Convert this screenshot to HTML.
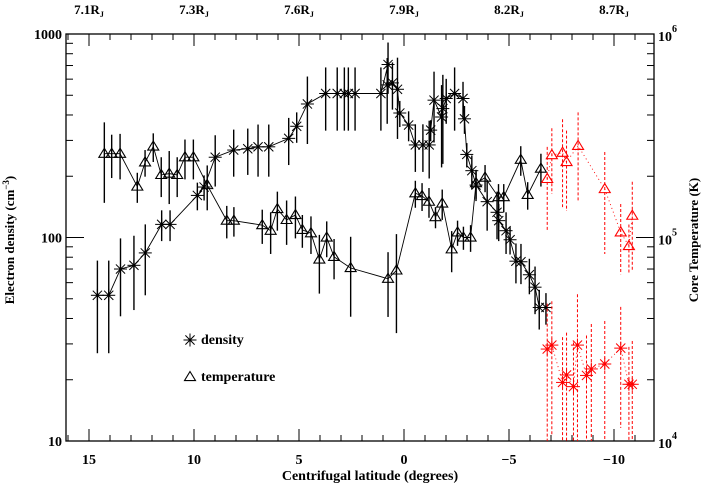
<!DOCTYPE html>
<html><head><meta charset="utf-8"><style>
body{margin:0;background:#fff}
svg{display:block;font-family:"Liberation Serif",serif}
</style></head><body>
<svg id="c" width="703" height="486" viewBox="0 0 703 486"></svg>
<script>
// ---- data ----
const densLat=[14.6,14.06,13.5,12.86,12.32,11.54,11.14,9.84,9.52,8.99,8.11,7.44,6.95,6.44,5.49,5.11,4.6,3.73,3.18,2.84,2.65,2.33,1.1,0.76,0.8,0.55,0.31,0.2,-0.22,-0.54,-0.9,-1.2,-1.27,-1.43,-1.79,-1.85,-2.01,-2.41,-2.81,-2.88,-2.99,-3.23,-3.43,-3.96,-4.43,-4.51,-4.86,-5.05,-5.33,-5.57,-5.97,-6.24,-6.44,-6.76];
const densVal=[52,52,70,73,84,116,116,161,177,248,269,273,279,279,307,352,453,510,510,510,510,510,510,708,562,575,535,409,357,285,285,285,337,473,391,430,482,510,482,383,256,213,181,150,133,121,108,97.5,76.5,76,65.6,57,45.3,45.3];
const densErr=[25,25,29,29,32,20,20,25,25,70,70,70,80,80,80,60,165,175,175,175,175,175,175,200,200,150,230,60,60,75,75,90,40,180,170,200,120,175,100,60,35,40,30,42,35,25,25,15,17,17,13,15,10,8];
const tempLat=[14.27,13.92,13.52,12.7,12.33,11.94,11.56,11.18,10.8,10.43,10.03,9.37,8.44,8.1,6.75,6.35,6.03,5.59,5.17,4.84,4.43,4.03,3.68,3.33,2.54,0.76,0.36,-0.54,-0.86,-1.19,-1.5,-1.82,-2.27,-2.55,-2.83,-3.17,-3.43,-3.86,-4.5,-4.75,-5.56,-5.89,-6.52];
const tempVal=[258000,258000,258000,178000,234000,280000,203000,206000,203000,248000,248000,181000,121000,121000,115000,108000,138000,122000,129000,109000,105000,78000,100000,80300,70800,62700,68900,165000,160000,150000,126000,147000,87500,106000,100000,100000,185000,197000,158000,158000,241000,162000,218000];
const tempErr=[110000,62000,65000,30000,35000,45000,45000,60000,45000,55000,55000,45000,22000,20000,22000,25000,30000,30000,30000,20000,22000,25000,20000,18000,30000,22000,35000,25000,25000,25000,15000,25000,20000,15000,13000,15000,30000,30000,25000,25000,40000,25000,40000];
const rDensLat=[-6.82,-7.04,-7.55,-7.74,-8.07,-8.26,-8.69,-8.92,-9.56,-10.32,-10.71,-10.87];
const rDensVal=[28.3,29.6,19.4,21.1,18.5,29.6,21,22.6,23.9,28.6,19,19];
const rDensErr=[19,19,13,13,12,23,12,15,15,17,10,12];
const rTempLat=[-6.82,-7.04,-7.55,-7.74,-8.29,-9.56,-10.32,-10.71,-10.87];
const rTempVal=[194000,254000,261000,235000,282000,173000,106000,90800,128000];
const rTempErr=[85000,90000,120000,100000,130000,90000,40000,25000,60000];
const xTicks=[15,10,5,0,-5,-10];
const xTickLabels=["15","10","5","0","\u22125","\u221210"];
const topLabels=["7.1","7.3","7.6","7.9","8.2","8.7"];

// ---- axes ----
const L=66,R=654,T=34,B=441,DEC=203.5;
const X=lat=>404-21*lat;
const YD=v=>B-(Math.log10(v)-1)*DEC;
const YT=v=>B-(Math.log10(v)-4)*DEC;
const NS="http://www.w3.org/2000/svg";
const svg=document.getElementById('c');
function mk(tag,at,parent){const e=document.createElementNS(NS,tag);for(const k in at)e.setAttribute(k,at[k]);(parent||svg).appendChild(e);return e;}
const clampY=y=>Math.max(T,Math.min(B,y));

const axes=mk('g',{});


mk('rect',{x:L,y:T,width:R-L,height:B-T,fill:'none',stroke:'#000','stroke-width':1.3},axes);
for(let d=16;d>=-11;d--){const x=X(d);const maj=d%5===0;const len=maj?12:6;
 mk('line',{x1:x,y1:B,x2:x,y2:B-len,stroke:'#000'},axes);
 mk('line',{x1:x,y1:T,x2:x,y2:T+len,stroke:'#000'},axes);}
xTicks.forEach((d,i)=>{const t=mk('text',{x:X(d),y:464,'text-anchor':'middle','font-size':14,'font-weight':'bold'},axes);t.textContent=xTickLabels[i];
 
 const u=mk('text',{x:X(d),y:14,'text-anchor':'middle','font-size':13,'font-weight':'bold'},axes);u.innerHTML=topLabels[i]+'R<tspan font-size="8" dy="3">J</tspan>';
 });
for(let dec=1;dec<3;dec++)for(let m=1;m<10;m++){const v=m*Math.pow(10,dec);const y=YD(v);const len=m===1?18:7;
 mk('line',{x1:L,y1:y,x2:L+len,y2:y,stroke:'#000'},axes);
 mk('line',{x1:R,y1:y,x2:R-len,y2:y,stroke:'#000'},axes);}
[[10,'10'],[100,'100'],[1000,'1000']].forEach(([v,s])=>{const t=mk('text',{x:62,y:YD(v)+5,'text-anchor':'end','font-size':14,'font-weight':'bold'},axes);t.textContent=s;
 });
[[1e4,'4'],[1e5,'5'],[1e6,'6']].forEach(([v,s])=>{const t=mk('text',{x:658,y:YT(v)+7,'font-size':14,'font-weight':'bold'},axes);t.innerHTML='10<tspan font-size="10" dy="-9">'+s+'</tspan>';
 });
let t=mk('text',{x:370,y:480,'text-anchor':'middle','font-size':14,'font-weight':'bold'});t.textContent='Centrifugal latitude (degrees)';

t=mk('text',{x:0,y:0,'text-anchor':'middle','font-size':13,'font-weight':'bold',transform:'translate(14,240) rotate(-90)'});t.innerHTML='Electron density (cm<tspan font-size="9" dy="-5">\u22123</tspan><tspan dy="5">)</tspan>';

t=mk('text',{x:0,y:0,'text-anchor':'middle','font-size':13,'font-weight':'bold',transform:'translate(698,240) rotate(-90)'});t.textContent='Core Temperature (K)';


function star(g,x,y,col){const r=6.5;for(let k=0;k<4;k++){const a=k*Math.PI/4;mk('line',{x1:x-r*Math.cos(a),y1:y-r*Math.sin(a),x2:x+r*Math.cos(a),y2:y+r*Math.sin(a),stroke:col,'stroke-width':1},g);}
 mk('circle',{cx:x,cy:y,r:1.5,fill:col},g);}
function tri(g,x,y,col){const r=5.5;mk('polygon',{points:`${x},${y-r} ${x-r},${y+r*0.65} ${x+r},${y+r*0.65}`,fill:'none',stroke:col,'stroke-width':1.1},g);}

function series(name,lat,val,err,Y,col,dash,sym){
 const g=mk('g',{});
 
 
 lat.forEach((d,i)=>{const lo=Math.max(val[i]-err[i],val[i]*0.05);
  const e=mk('line',{x1:X(d),x2:X(d),y1:clampY(Y(val[i]+err[i])),y2:clampY(Y(lo)),stroke:col,'stroke-width':dash?1:1.4,'stroke-dasharray':dash?'3,2':'none'},g);
  });
 const pts=lat.map((d,i)=>X(d)+','+Y(val[i])).join(' ');
 const pl=mk('polyline',{points:pts,fill:'none',stroke:col,'stroke-width':0.9,'stroke-dasharray':dash?'1,3':'none'},g);
 
 lat.forEach((d,i)=>{const p=mk('g',{},g);sym(p,X(d),Y(val[i]),col);});
}
series('temperature-series',tempLat,tempVal,tempErr,YT,'#000',false,tri);
series('density-series',densLat,densVal,densErr,YD,'#000',false,star);
series('red-temperature-series',rTempLat,rTempVal,rTempErr,YT,'#f00',true,tri);
series('red-density-series',rDensLat,rDensVal,rDensErr,YD,'#f00',true,star);

const lg=mk('g',{});


const l1=mk('g',{},lg);star(l1,190,340,'#000');
t=mk('text',{x:201,y:344,'font-size':14,'font-weight':'bold'},l1);t.textContent='density';
const l2=mk('g',{},lg);tri(l2,190,377,'#000');
t=mk('text',{x:201,y:381,'font-size':14,'font-weight':'bold'},l2);t.textContent='temperature';
</script>
</body></html>
